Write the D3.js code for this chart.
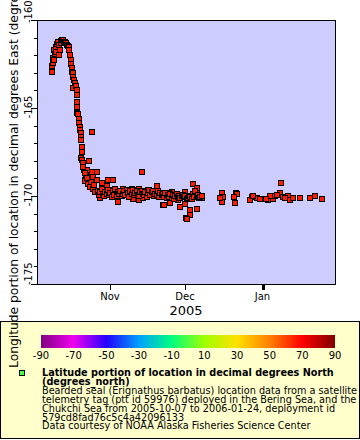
<!DOCTYPE html>
<html><head><meta charset="utf-8">
<script src="https://cdn.jsdelivr.net/npm/d3@7"></script>
<style>body{margin:0;background:#fff}svg{display:block;font-family:"DejaVu Sans",sans-serif}</style>
</head><body><div id="chart"></div>
<script>
// ---- data ----
const times = [
"2005-10-08 16","2005-10-08 17","2005-10-08 19","2005-10-09 00","2005-10-09 08","2005-10-09 14","2005-10-09 19","2005-10-10 00","2005-10-10 05","2005-10-10 10",
"2005-10-10 19","2005-10-11 05","2005-10-11 10","2005-10-11 17","2005-10-12 00","2005-10-12 07","2005-10-12 12","2005-10-12 19","2005-10-13 00","2005-10-13 08",
"2005-10-13 14","2005-10-14 00","2005-10-14 10","2005-10-14 22","2005-10-15 00","2005-10-15 12","2005-10-15 19","2005-10-16 00","2005-10-16 07","2005-10-16 12",
"2005-10-16 16","2005-10-16 17","2005-10-17 00","2005-10-17 08","2005-10-17 14","2005-10-18 00","2005-10-17 08","2005-10-18 08","2005-10-18 16","2005-10-18 17",
"2005-10-18 17","2005-10-18 22","2005-10-18 22","2005-10-19 02","2005-10-19 14","2005-10-19 19","2005-10-20 00","2005-10-20 00","2005-10-20 07","2005-10-20 07",
"2005-10-20 07","2005-10-20 19","2005-10-20 19","2005-10-24 16","2005-10-20 10","2005-10-20 22","2005-10-21 08","2005-10-23 17","2005-10-21 14","2005-10-22 16",
"2005-10-24 16","2005-10-22 00","2005-10-23 08","2005-10-25 08","2005-10-26 16","2005-10-26 16","2005-10-28 16","2005-10-31 08","2005-11-02 08","2005-10-30 16",
"2005-10-29 08","2005-11-01 00","2005-11-03 16","2005-10-28 00","2005-10-22 00","2005-11-13 16","2005-11-04 08","2005-11-10 08","2005-11-12 08","2005-11-19 16",
"2005-11-22 08","2005-11-25 16","2005-11-29 00","2005-12-01 00","2005-12-04 08","2005-12-05 16","2005-12-05 16","2005-12-07 16","2005-12-03 00","2005-12-05 16",
"2005-12-03 00","2005-12-01 10","2005-12-01 16","2005-12-15 16","2005-12-16 08","2005-12-15 16","2005-12-15 00","2005-12-21 10","2005-12-21 22","2005-12-21 00",
"2005-12-20 17","2005-12-27 16","2005-12-29 16","2005-12-27 00","2005-12-28 05","2006-01-03 08","2006-01-05 02","2006-01-06 00","2006-01-08 00","2006-01-08 07",
"2006-01-09 02","2006-01-11 08","2006-01-12 00","2006-01-13 08","2006-01-16 00","2006-01-10 00","2006-01-20 00","2006-01-22 00","2006-01-24 16","2006-01-04 00",
"2006-01-02 10","2006-01-06 19","2005-12-31 00","2005-11-12 14","2005-11-22 14","2005-11-24 17","2005-11-06 08","2005-11-09 16","2005-11-12 17","2005-11-16 08",
"2005-11-23 00","2005-11-25 16","2005-11-25 00","2005-11-28 08","2005-12-01 00","2005-11-14 08","2005-10-22 12","2005-10-23 00","2005-10-24 00","2005-10-24 12",
"2005-10-25 00","2005-10-25 16","2005-10-26 00","2005-10-21 00","2005-10-21 20","2005-10-22 20",
"2005-10-27 04","2005-10-27 16","2005-10-28 04","2005-10-28 16","2005-10-29 04","2005-10-29 16","2005-10-30 04","2005-10-30 16","2005-10-31 04","2005-10-31 16",
"2005-11-01 04","2005-11-01 16","2005-11-02 04","2005-11-02 16","2005-11-03 04","2005-11-03 16","2005-11-04 04","2005-11-04 16","2005-11-05 04","2005-11-05 16",
"2005-11-06 04","2005-11-06 16","2005-11-07 04","2005-11-07 16","2005-11-08 04","2005-11-08 16","2005-11-09 04","2005-11-09 16","2005-11-10 04","2005-11-10 16",
"2005-11-11 04","2005-11-11 16","2005-11-12 04","2005-11-12 16","2005-11-13 04","2005-11-13 16","2005-11-14 04","2005-11-14 16","2005-11-15 04","2005-11-15 16",
"2005-11-16 04","2005-11-16 16","2005-11-17 04","2005-11-17 16","2005-11-18 04","2005-11-18 16","2005-11-19 04","2005-11-19 16","2005-11-20 04","2005-11-20 16",
"2005-11-21 04","2005-11-21 16","2005-11-22 04","2005-11-22 16","2005-11-23 04","2005-11-23 16","2005-11-24 04","2005-11-24 16","2005-11-25 04","2005-11-25 16",
"2005-11-26 04","2005-11-26 16","2005-11-27 04","2005-11-27 16","2005-11-28 04","2005-11-28 16","2005-11-29 04","2005-11-29 16","2005-11-30 04","2005-11-30 16",
"2005-12-01 04","2005-12-01 16","2005-12-02 04","2005-12-02 16","2005-12-03 04","2005-12-03 16","2005-12-04 04","2005-12-04 16","2005-12-05 04","2005-12-05 16",
"2005-12-06 04","2005-12-06 16","2005-12-07 04","2005-12-07 16"
];
const longitudes = [
-162.74,-162.60,-162.95,-162.44,-162.18,-161.70,-162.30,-161.95,-161.80,-161.53,
-161.36,-161.25,-161.40,-161.99,-161.70,-161.18,-161.30,-161.11,-161.15,-161.14,
-161.25,-161.23,-161.31,-161.42,-161.50,-161.52,-161.70,-161.99,-162.27,-162.50,
-162.74,-162.94,-163.00,-163.22,-163.41,-163.60,-163.86,-163.75,-163.98,-164.26,
-164.64,-164.94,-165.28,-165.34,-165.63,-165.85,-166.06,-166.25,-166.44,-166.65,
-166.82,-167.20,-167.48,-166.35,-167.86,-167.95,-168.14,-167.99,-168.52,-168.52,
-168.62,-169.09,-168.90,-168.90,-168.62,-169.09,-169.24,-169.09,-169.09,-169.43,
-169.66,-169.66,-169.85,-170.11,-169.15,-168.62,-170.32,-170.19,-170.19,-169.43,
-170.51,-169.76,-170.61,-169.76,-169.32,-169.56,-169.85,-170.10,-170.80,-170.76,
-171.08,-171.25,-171.31,-169.85,-170.07,-170.32,-170.10,-169.85,-169.89,-170.42,
-170.06,-170.07,-170.13,-170.23,-170.00,-170.23,-170.19,-170.00,-169.85,-169.24,
-170.04,-170.00,-170.23,-170.13,-170.10,-170.10,-170.10,-169.98,-170.17,-170.00,
-170.17,-169.94,-170.17,-170.23,-170.51,-169.81,-169.62,-169.62,-169.62,-169.66,
-170.04,-170.13,-170.38,-170.23,-170.47,-170.13,-168.80,-169.30,-169.50,-169.20,
-169.60,-169.40,-169.80,-168.35,-168.70,-169.00,
-169.70,-169.95,-169.80,-169.60,-169.90,-170.02,-169.75,-169.88,-169.68,-169.97,
-169.85,-170.05,-169.72,-169.93,-169.62,-169.99,-169.80,-169.90,-169.70,-170.00,
-169.86,-169.74,-169.95,-169.66,-169.82,-170.03,-169.73,-169.90,-169.64,-169.96,
-169.84,-169.71,-169.92,-170.01,-169.78,-169.69,-169.88,-169.97,-169.75,-170.04,
-169.83,-169.68,-169.94,-169.77,-169.70,-170.00,-169.86,-169.92,-169.74,-170.06,
-169.81,-169.97,-169.90,-170.08,-169.85,-170.12,-169.96,-170.03,-169.88,-170.10,
-169.95,-170.15,-170.02,-169.90,-170.08,-169.98,-170.12,-170.00,-169.94,-170.06,
-170.00,-170.15,-170.10,-169.98,-170.05,-170.18,-169.90,-170.08,-169.70,-170.02,
-169.95,-170.12,-170.05,-169.98
];
const xDomain = ["2005-10-02 19:12", "2006-01-30 00:00"];
const yDomain = [-175, -160];
const yMajorTicks = [-160, -165, -170, -175];
const xTickDates = ["2005-11-01", "2005-12-01", "2006-01-01"];
const xTickLabels = ["Nov", "Dec", "Jan"];
const xAxisTitle = "2005";
const yAxisTitle = "Longitude portion of location in decimal degrees East (degrees_east)";
const colorbarTicks = [-90, -70, -50, -30, -10, 10, 30, 50, 70, 90];
const colorbarStops = ["#800080", "#f000f0", "#2400ff", "#00a0ff", "#00ff80", "#a0ff00", "#ffe000", "#ff8000", "#ff0000", "#800000"];
const legendLinesBold = ["Latitude portion of location in decimal degrees North", "(degrees_north)"];
const legendLines = [
  "Bearded seal (Erignathus barbatus) location data from a satellite",
  "telemetry tag (ptt id 59976) deployed in the Bering Sea, and the",
  "Chukchi Sea from 2005-10-07 to 2006-01-24, deployment id",
  "579cd8fad76c5c4a42096133",
  "Data courtesy of NOAA Alaska Fisheries Science Center"
];
const markerLatitude = 66;

// ---- drawing ----
const W = 360, H = 440;
const plot = {l: 37, r: 335, t: 20, b: 284};
const svg = d3.select("#chart").append("svg").attr("width", W).attr("height", H);
const parseT = d3.utcParse("%Y-%m-%d %H");
const parseM = d3.utcParse("%Y-%m-%d %H:%M");
const parseD = d3.utcParse("%Y-%m-%d");
const data = times.map((t, i) => ({t: parseT(t), v: longitudes[i]}));

const x = d3.scaleUtc().domain(xDomain.map(parseM)).range([plot.l, plot.r]);
const y = d3.scaleLinear().domain(yDomain).range([plot.b, plot.t]);
const cScale = d3.scaleLinear().domain(colorbarTicks).range(colorbarStops).interpolate(d3.interpolateRgb);

svg.append("rect").attr("x", plot.l).attr("y", plot.t).attr("width", plot.r - plot.l).attr("height", plot.b - plot.t)
  .attr("fill", "#ccccff");

svg.append("clipPath").attr("id", "clip").append("rect")
  .attr("x", plot.l).attr("y", plot.t).attr("width", plot.r - plot.l).attr("height", plot.b - plot.t);

const ms = 5;
svg.append("g").attr("clip-path", "url(#clip)").selectAll("rect").data(data).join("rect")
  .attr("x", d => Math.round(x(d.t)) - ms / 2)
  .attr("y", d => Math.round(y(d.v)) - ms / 2)
  .attr("width", ms).attr("height", ms)
  .attr("fill", cScale(markerLatitude)).attr("stroke", "#000").attr("stroke-width", 1);

svg.append("rect").attr("x", plot.l + 0.5).attr("y", plot.t + 0.5).attr("width", plot.r - plot.l).attr("height", plot.b - plot.t)
  .attr("fill", "none").attr("stroke", "#000").attr("stroke-width", 1);

// y axis
const yMinor = d3.range(yDomain[0], yDomain[1] + 1, 1);
svg.append("g").selectAll("line").data(yMinor).join("line")
  .attr("x1", plot.l).attr("x2", d => yMajorTicks.includes(d) ? plot.l - 6 : plot.l - 3)
  .attr("y1", d => Math.round(y(d)) + 0.5).attr("y2", d => Math.round(y(d)) + 0.5)
  .attr("stroke", "#000");
svg.append("g").selectAll("text").data(yMajorTicks).join("text")
  .attr("transform", d => {
    const yy = d === yDomain[1] ? y(d) + 3 : (d === yDomain[0] ? y(d) + 1 : y(d) - 1);
    return `translate(32,${yy}) rotate(-90)`;
  })
  .attr("text-anchor", d => (d === yDomain[1] || d === yDomain[0]) ? "start" : "middle")
  .attr("font-size", 10).text(d => d);

// x axis
const xt = xTickDates.map(parseD);
svg.append("g").selectAll("line").data(xt).join("line")
  .attr("x1", d => Math.round(x(d)) + 0.5).attr("x2", d => Math.round(x(d)) + 0.5)
  .attr("y1", plot.b).attr("y2", plot.b + 6)
  .attr("stroke", "#000").attr("stroke-width", (d, i) => i === 2 ? 3 : 1);
svg.append("g").selectAll("text").data(xt).join("text")
  .attr("x", d => x(d)).attr("y", 300).attr("text-anchor", "middle").attr("font-size", 10)
  .text((d, i) => xTickLabels[i]);
svg.append("text").attr("x", (plot.l + plot.r) / 2).attr("y", 315).attr("text-anchor", "middle")
  .attr("font-size", 13).text(xAxisTitle);

// legend box
svg.append("rect").attr("x", 0.5).attr("y", 321.5).attr("width", 359).attr("height", 117)
  .attr("fill", "#ffffcc").attr("stroke", "#000");

// colorbar
const cb = {l: 41, r: 335, t: 335, h: 13};
const cx = d3.scaleLinear().domain([colorbarTicks[0], colorbarTicks[colorbarTicks.length - 1]]).range([cb.l, cb.r]);
const grad = svg.append("defs").append("linearGradient").attr("id", "cbgrad");
grad.selectAll("stop").data(colorbarTicks).join("stop")
  .attr("offset", d => (cx(d) - cb.l) / (cb.r - cb.l)).attr("stop-color", d => cScale(d));
svg.append("rect").attr("x", cb.l).attr("y", cb.t).attr("width", cb.r - cb.l).attr("height", cb.h)
  .attr("fill", "url(#cbgrad)");
svg.append("g").selectAll("text").data(colorbarTicks).join("text")
  .attr("x", d => cx(d)).attr("y", 359).attr("text-anchor", "middle").attr("font-size", 10).text(d => d);

// legend entry
svg.append("rect").attr("x", 19.5).attr("y", 370.5).attr("width", 5).attr("height", 5)
  .attr("fill", "#44ff44").attr("stroke", "#000");
legendLinesBold.forEach((s, i) => svg.append("text").attr("x", 42).attr("y", 376 + i * 8.9)
  .attr("font-size", 9.7).attr("font-weight", "bold").text(s));
legendLines.forEach((s, i) => svg.append("text").attr("x", 42).attr("y", 376 + (i + 2) * 8.9)
  .attr("font-size", 9.7).text(s));

// y axis title (drawn last, over the legend box, as in the reference)
svg.append("text").attr("transform", `translate(18,368) rotate(-90)`)
  .attr("font-size", 12.3).attr("text-anchor", "start").attr("fill", "#000").text(yAxisTitle);
</script></body></html>
